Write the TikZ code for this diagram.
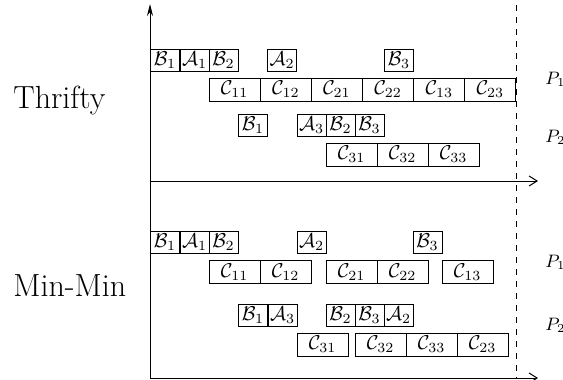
\documentclass[tikz,border=0pt]{standalone}
\usetikzlibrary{arrows.meta}
\begin{document}
\begin{tikzpicture}[x=0.5pt,y=-0.5pt,
  sbox/.style={draw,line width=0.5pt,inner sep=0pt,minimum width=14.5pt,minimum height=11pt,font=\fontsize{10}{12}\selectfont},
  cbox/.style={draw,line width=0.5pt,inner sep=0pt,minimum width=25.5pt,minimum height=11.5pt,font=\fontsize{10}{12}\selectfont},
  axis/.style={line width=0.5pt},
  plab/.style={anchor=base west,inner sep=0pt,font=\fontsize{9}{11}\selectfont},
  biglab/.style={anchor=base west,inner sep=0pt,font=\fontsize{16}{19}\selectfont}]
\useasboundingbox (0,0) rectangle (563,380);
% axes
\coordinate (O) at (150,378);
\coordinate (Ytop) at (150,4);
\coordinate (M) at (150,181);
\coordinate (Mend) at (538,181);
\coordinate (Bend) at (538,378);
\coordinate (Dtop) at (516,5);
\coordinate (Dbot) at (516,378);
\draw[axis,-{Stealth[length=6pt,width=3pt]}] (O) -- (Ytop);
\draw[axis,-{Straight Barb[length=4pt,width=5pt]}] (M) -- (Mend);
\draw[axis,-{Straight Barb[length=4pt,width=5pt]}] (O) -- (Bend);
\draw[axis,dash pattern=on 3pt off 3pt] (Dtop) -- (Dbot);
% labels
\node[biglab] (thr) at (13,108) {Thrifty};
\node[biglab] (mm) at (13,296) {Min-Min};
\node[plab] (tp1) at (545,84) {$P_1$};
\node[plab] (tp2) at (545,142) {$P_2$};
\node[plab] (mp1) at (545,267) {$P_1$};
\node[plab] (mp2) at (545,330) {$P_2$};
% Thrifty P1
\node[sbox] (ta1) at (165,60) {$\mathcal{B}_1$};
\node[sbox] (ta2) at (194.5,60) {$\mathcal{A}_1$};
\node[sbox] (ta3) at (223.5,60) {$\mathcal{B}_2$};
\node[sbox] (ta4) at (282,60) {$\mathcal{A}_2$};
\node[sbox] (ta5) at (399,60) {$\mathcal{B}_3$};
\node[cbox] (tc1) at (234.6,89.5) {$\mathcal{C}_{11}$};
\node[cbox] (tc2) at (285.8,89.5) {$\mathcal{C}_{12}$};
\node[cbox] (tc3) at (336.9,89.5) {$\mathcal{C}_{21}$};
\node[cbox] (tc4) at (388.1,89.5) {$\mathcal{C}_{22}$};
\node[cbox] (tc5) at (439.3,89.5) {$\mathcal{C}_{13}$};
\node[cbox] (tc6) at (490.4,89.5) {$\mathcal{C}_{23}$};
% Thrifty P2
\node[sbox] (tb1) at (253,125.5) {$\mathcal{B}_1$};
\node[sbox] (tb2) at (311.5,125.5) {$\mathcal{A}_3$};
\node[sbox] (tb3) at (340.5,125.5) {$\mathcal{B}_2$};
\node[sbox] (tb4) at (369.5,125.5) {$\mathcal{B}_3$};
\node[cbox] (td1) at (351.5,154.5) {$\mathcal{C}_{31}$};
\node[cbox] (td2) at (402.5,154.5) {$\mathcal{C}_{32}$};
\node[cbox] (td3) at (453.5,154.5) {$\mathcal{C}_{33}$};
% Min-Min P1
\node[sbox] (ma1) at (165,242.5) {$\mathcal{B}_1$};
\node[sbox] (ma2) at (194.5,242.5) {$\mathcal{A}_1$};
\node[sbox] (ma3) at (223.5,242.5) {$\mathcal{B}_2$};
\node[sbox] (ma4) at (311.5,242.5) {$\mathcal{A}_2$};
\node[sbox] (ma5) at (427.5,242.5) {$\mathcal{B}_3$};
\node[cbox] (mc1) at (234.5,272) {$\mathcal{C}_{11}$};
\node[cbox] (mc2) at (285.5,272) {$\mathcal{C}_{12}$};
\node[cbox] (mc3) at (351.5,272) {$\mathcal{C}_{21}$};
\node[cbox] (mc4) at (402.5,272) {$\mathcal{C}_{22}$};
\node[cbox] (mc5) at (467.5,272) {$\mathcal{C}_{13}$};
% Min-Min P2
\node[sbox] (mb1) at (253,315.5) {$\mathcal{B}_1$};
\node[sbox] (mb2) at (282.5,315.5) {$\mathcal{A}_3$};
\node[sbox] (mb3) at (340.5,315.5) {$\mathcal{B}_2$};
\node[sbox] (mb4) at (369.5,315.5) {$\mathcal{B}_3$};
\node[sbox] (mb5) at (398.5,315.5) {$\mathcal{A}_2$};
\node[cbox] (md1) at (322.5,344.5) {$\mathcal{C}_{31}$};
\node[cbox] (md2) at (380.5,344.5) {$\mathcal{C}_{32}$};
\node[cbox] (md3) at (431.5,344.5) {$\mathcal{C}_{33}$};
\node[cbox] (md4) at (482.5,344.5) {$\mathcal{C}_{23}$};
\end{tikzpicture}
\end{document}
